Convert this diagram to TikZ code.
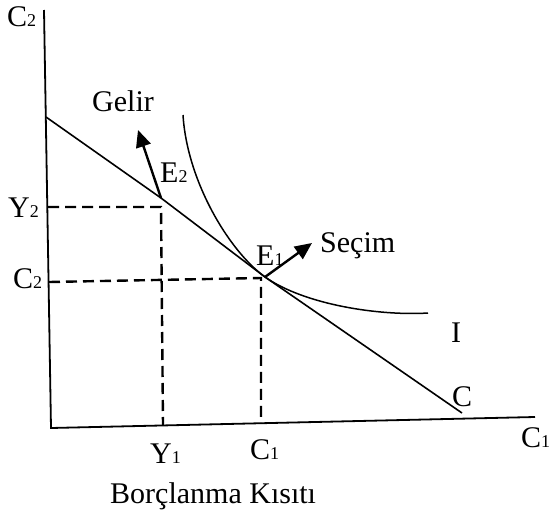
\documentclass[tikz,border=0pt]{standalone}
\usepackage{fontspec}
\setmainfont{Liberation Serif}
\usetikzlibrary{arrows.meta}
\tikzset{
	axisline/.style={line width=1.8pt},
	budgetline/.style={line width=1.6pt},
	dashline/.style={line width=2.4pt, dash pattern=on 11pt off 6pt},
	curveline/.style={line width=1.5pt},
	movearr/.style={line width=2.4pt, -{Triangle[length=17pt,width=15pt]}},
	lbl/.style={font=\fontsize{30}{34}\selectfont, inner sep=0pt, anchor=base west}
}
\newcommand{\sbs}[1]{{\fontsize{18}{20}\selectfont #1}}

\begin{document}
\begin{tikzpicture}[x=1pt,y=-1pt]
	\useasboundingbox (0,0) rectangle (551,514);
	% axes
	\coordinate (top) at (44,10);
	\coordinate (origin) at (51,428);
	\coordinate (right) at (535,417);
	\draw[axisline] (top) -- (origin) -- (right);
	% budget line and points
	\coordinate (bstart) at (46,117);
	\coordinate (bend) at (462,413);
	\coordinate (E2) at (161,198);
	\coordinate (E1) at (265,277);
	\draw[budgetline] (bstart) -- (E2) -- (E1) -- (bend);
	% indifference curve
	\coordinate (itop) at (183,115);
	\coordinate (iend) at (428,313);
	\draw[curveline] (itop) .. controls (187,180) and (228,250) .. (E1)
		.. controls (305,305) and (380,316) .. (iend);
	% dashed guides
	\coordinate (y2ax) at (48,207);
	\coordinate (y2pt) at (161,207);
	\coordinate (y1ax) at (163,425);
	\coordinate (c2ax) at (49,282);
	\coordinate (c2pt) at (261,278);
	\coordinate (c1ax) at (261,423);
	\draw[dashline] (y2ax) -- (y2pt) -- (y1ax);
	\draw[dashline] (c2ax) -- (c2pt) -- (c1ax);
	% arrows
	\coordinate (geliruc) at (138,130);
	\coordinate (secimuc) at (312,243);
	\draw[movearr] (E2) -- (geliruc);
	\draw[movearr] (E1) -- (secimuc);
	% labels
	\node[lbl] (c2top) at (7,27) {C\sbs{2}};
	\node[lbl, anchor=base] (gelir) at (123,111) {Gelir};
	\node[lbl] (e2lbl) at (160,182) {E\sbs{2}};
	\node[lbl] (y2lbl) at (8,217) {Y\sbs{2}};
	\node[lbl] (c2lbl) at (13,288) {C\sbs{2}};
	\node[lbl] (e1lbl) at (256,265) {E\sbs{1}};
	\node[lbl] (secim) at (320,252) {Seçim};
	\node[lbl, anchor=base] (ilbl) at (456,342) {I};
	\node[lbl] (clbl) at (452,406) {C};
	\node[lbl] (c1right) at (521,447) {C\sbs{1}};
	\node[lbl] (y1lbl) at (150,463) {Y\sbs{1}};
	\node[lbl] (c1lbl) at (250,459) {C\sbs{1}};
	\node[lbl] (borc) at (110,503) {Borçlanma Kısıtı};
\end{tikzpicture}
\end{document}
